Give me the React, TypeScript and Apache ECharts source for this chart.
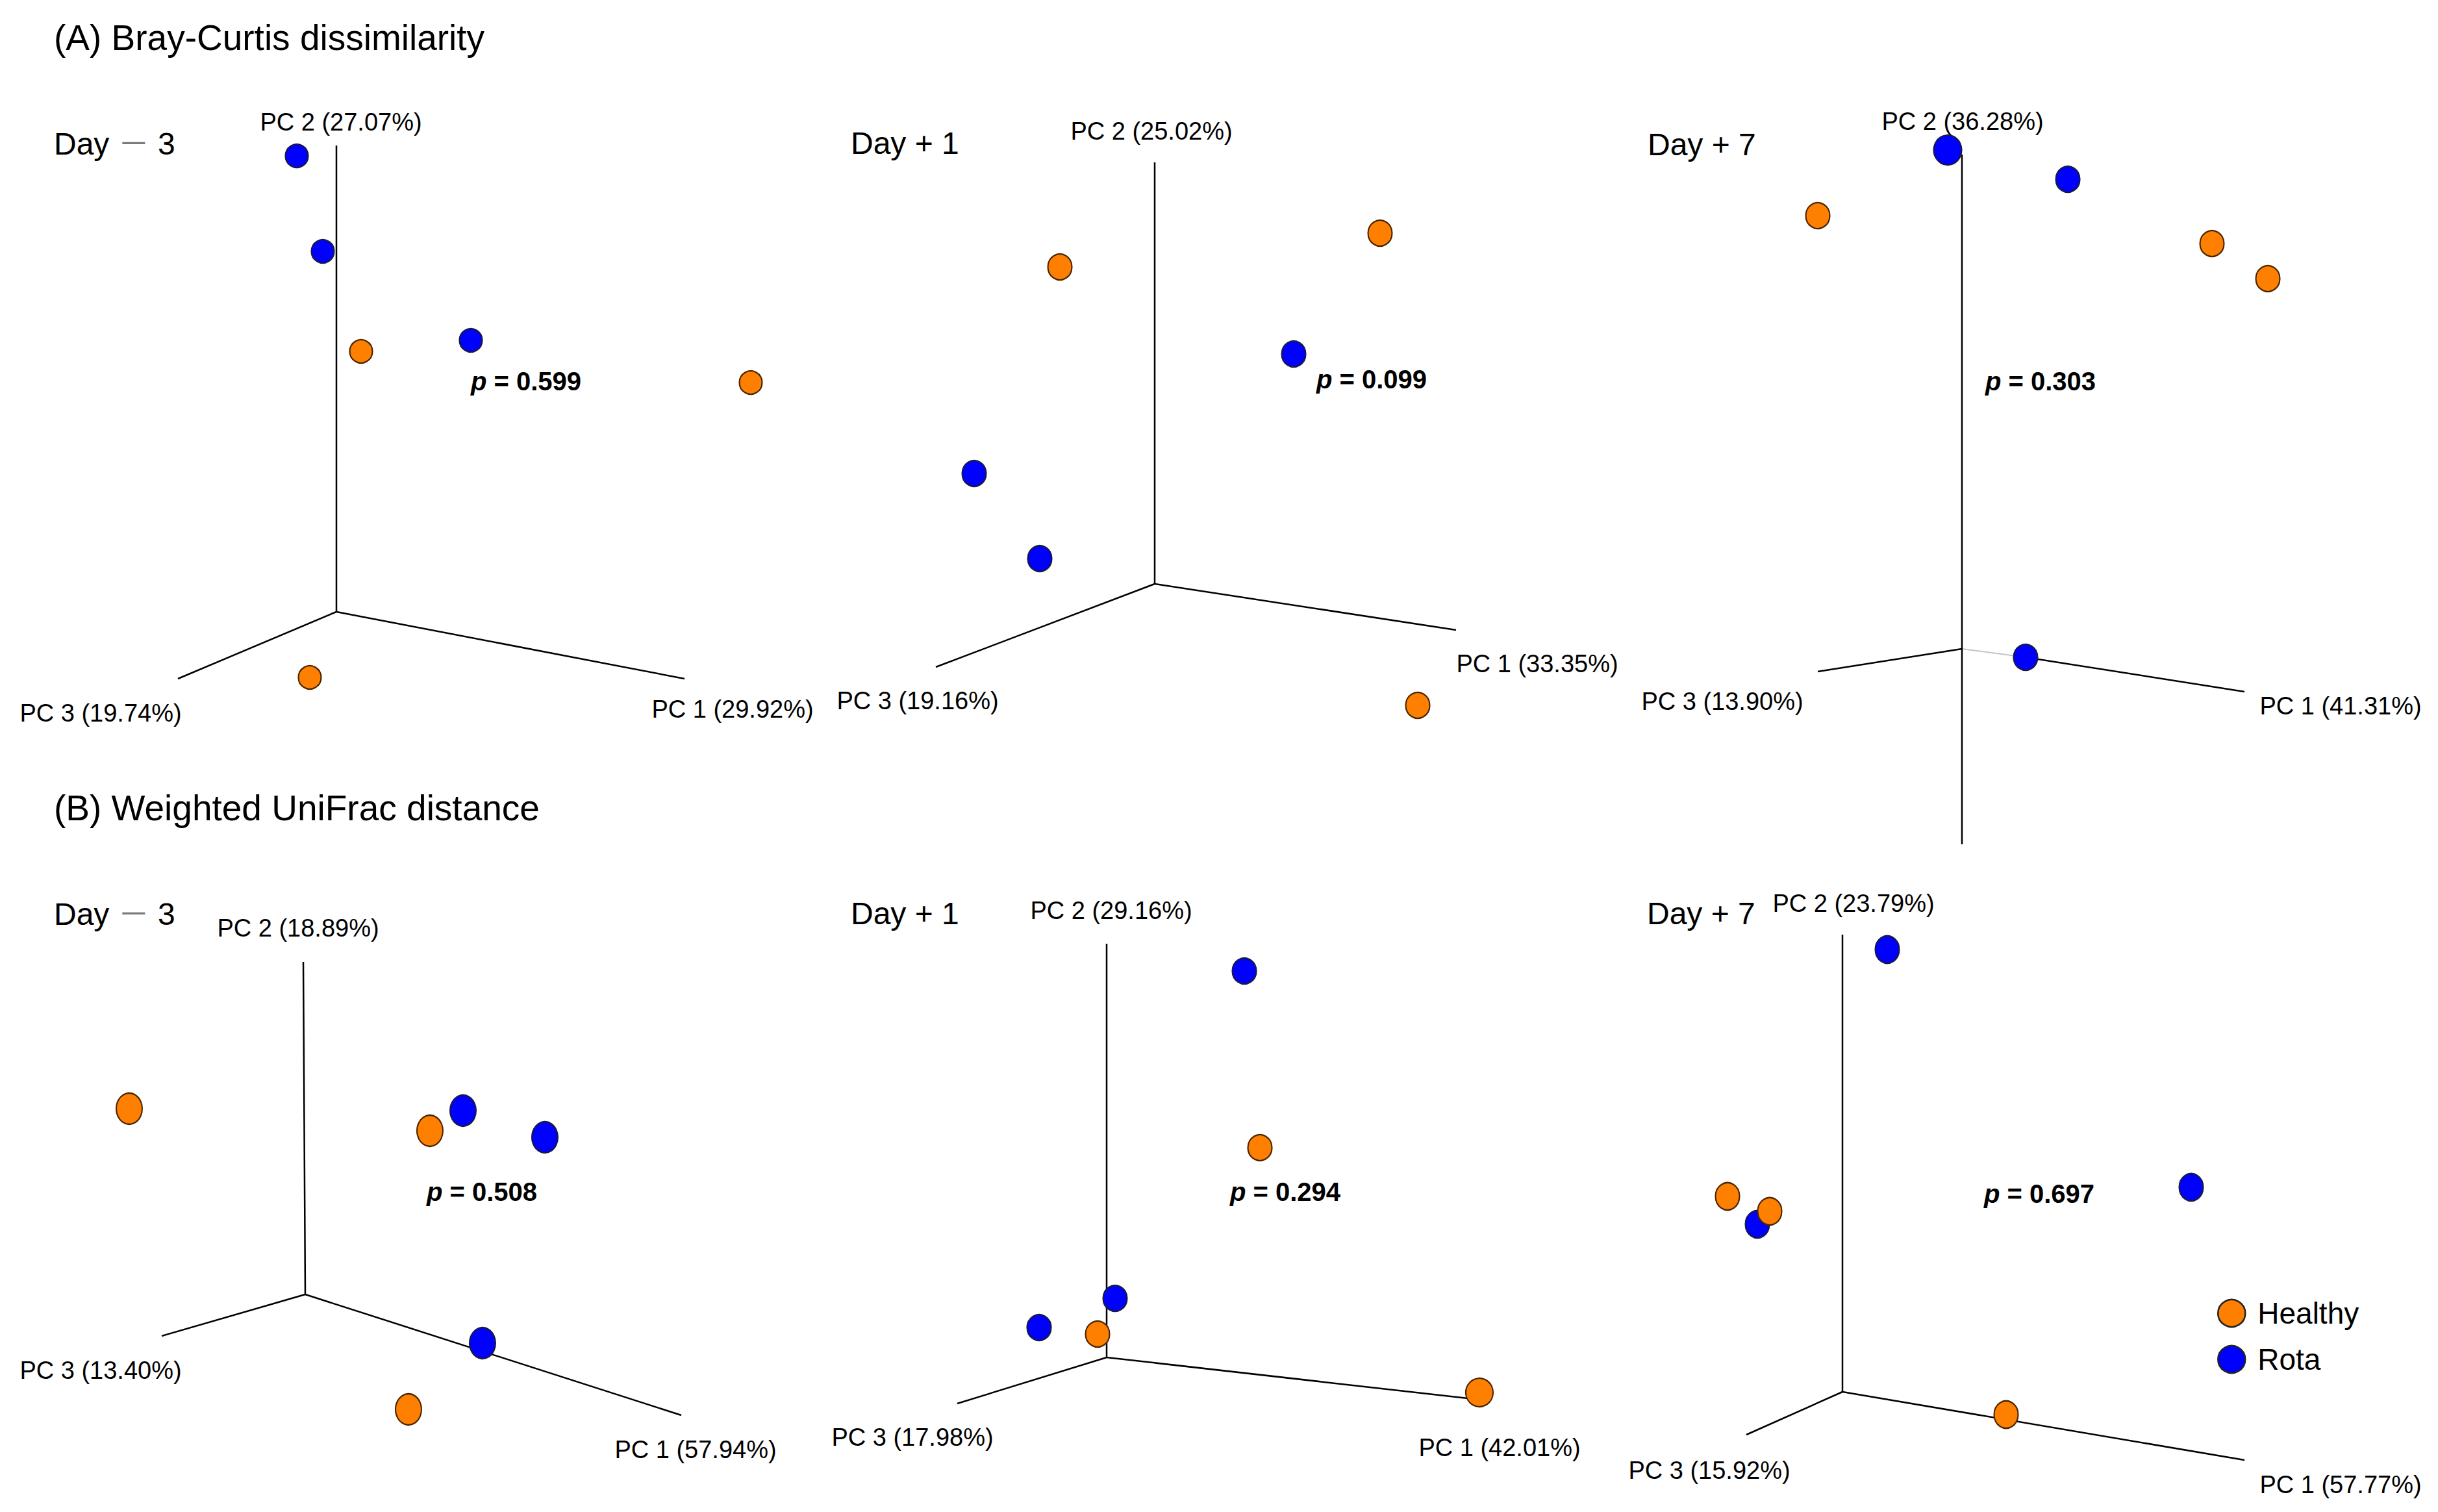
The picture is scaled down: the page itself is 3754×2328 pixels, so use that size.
import React, { useEffect, useRef } from "react";
import * as echarts from "echarts";

// ---------------- DATA (projected PCoA scores, relative to each panel's axis origin) ----------------
const SECTION_TITLES = ["(A) Bray-Curtis dissimilarity", "(B) Weighted UniFrac distance"];
const DAY_LABELS = ["Day \uFF0D 3", "Day + 1", "Day + 7", "Day \uFF0D 3", "Day + 1", "Day + 7"];
const P_VALUES = ["0.599", "0.099", "0.303", "0.508", "0.294", "0.697"];
const PC1_LABELS = ["PC 1 (29.92%)", "PC 1 (33.35%)", "PC 1 (41.31%)", "PC 1 (57.94%)", "PC 1 (42.01%)", "PC 1 (57.77%)"];
const PC2_LABELS = ["PC 2 (27.07%)", "PC 2 (25.02%)", "PC 2 (36.28%)", "PC 2 (18.89%)", "PC 2 (29.16%)", "PC 2 (23.79%)"];
const PC3_LABELS = ["PC 3 (19.74%)", "PC 3 (19.16%)", "PC 3 (13.90%)", "PC 3 (13.40%)", "PC 3 (17.98%)", "PC 3 (15.92%)"];
const GROUPS = ["Healthy", "Rota"];

// Bray-Curtis
const HEALTHY_A1 = [[0.38, 4.01], [6.38, 3.53], [-0.41, -1.01]];
const ROTA_A1 = [[-0.61, 7.02], [-0.21, 5.55], [2.07, 4.18]];
const HEALTHY_A2 = [[-1.46, 4.88], [3.47, 5.40], [4.05, -1.87]];
const ROTA_A2 = [[2.14, 3.54], [-2.78, 1.70], [-1.77, 0.39]];
const HEALTHY_A3 = [[-2.22, 6.67], [3.85, 6.24], [4.71, 5.70]];
const ROTA_A3 = [[-0.22, 7.68], [1.63, 7.23], [0.98, -0.13]];
// Weighted UniFrac
const HEALTHY_B1 = [[-2.71, 2.86], [1.92, 2.52], [1.59, -1.77]];
const ROTA_B1 = [[2.43, 2.83], [3.69, 2.42], [2.73, -0.75]];
const HEALTHY_B2 = [[2.36, 3.23], [-0.14, 0.36], [5.74, -0.54]];
const ROTA_B2 = [[2.12, 5.95], [0.13, 0.91], [-1.04, 0.46]];
const HEALTHY_B3 = [[-1.77, 3.01], [-1.12, 2.78], [2.52, -0.35]];
const ROTA_B3 = [[0.69, 6.81], [5.37, 3.15], [-1.31, 2.58]];

// projected axis end points
const PC1_END = [[5.36, -1.03], [4.64, -0.71], [4.35, -0.66], [5.79, -1.86], [5.74, -0.65], [6.19, -1.05]];
const PC2_END = [[0, 7.18], [0, 6.49], [0, 7.61], [-0.03, 5.12], [0, 6.37], [0, 7.04]];
const PC3_END = [[-2.44, -1.03], [-3.37, -1.28], [-2.22, -0.35], [-2.21, -0.64], [-2.3, -0.71], [-1.48, -0.66]];
const PC2_LOWER_END = [null, null, [0, -3.01], null, null, null];
const PC1_HIDDEN_TO = [null, null, [0.98, -0.13], null, null, null];

const HEALTHY = [HEALTHY_A1, HEALTHY_A2, HEALTHY_A3, HEALTHY_B1, HEALTHY_B2, HEALTHY_B3];
const ROTA = [ROTA_A1, ROTA_A2, ROTA_A3, ROTA_B1, ROTA_B2, ROTA_B3];

// ---------------- LAYOUT & STYLE ----------------
const W = 3754;
const H = 2328;
const FONT = "'Liberation Sans', Arial, Helvetica, 'Noto Sans CJK JP', sans-serif";
const ORANGE = "#FF7F00";
const BLUE = "#0000FF";
const UNIT = 100; // px per projected unit
const X_RANGE = [-3.5, 7.2];
const Y_RANGES = [[-3.5, 8.2], [-3.5, 8.2], [-3.5, 8.2], [-1.8, 8.2], [-1.8, 8.2], [-1.8, 8.2]];
const PANEL_ORIGINS = [[518, 942], [1778, 899], [3021, 999], [470, 1993], [1704, 2090], [2837, 2143]];
const MARKER_SIZES = [[35, 36], [37, 40], [37, 40], [40, 48], [37, 40], [37, 42]];
const BIG_ROTA = { 2: { idx: 0, size: [43, 46] } } as Record<number, { idx: number; size: number[] }>;
const BIG_HEALTHY = { 4: { idx: 2, size: [42, 44] } } as Record<number, { idx: number; size: number[] }>;
const TITLE_POS = [[83, 58], [83, 1244]];
const DAY_POS = [[83, 221], [1310, 220], [2537, 222], [83, 1407], [1310, 1406], [2536, 1406]];
const PC1_POS = [[1128, 1092], [2367, 1022], [3604, 1087], [1071, 2232], [2309, 2229], [3604, 2286]];
const PC2_POS = [[525, 188], [1773, 202], [3022, 187], [459, 1429], [1711, 1402], [2854, 1391]];
const PC3_POS = [[155, 1098], [1413, 1079], [2652, 1080], [155, 2110], [1405, 2213], [2632, 2264]];
const P_POS = [[725, 587], [2027, 584], [3057, 587], [657, 1835], [1894, 1835], [3055, 1838]];

function buildOption() {
  const grid: any[] = [];
  const xAxis: any[] = [];
  const yAxis: any[] = [];
  const series: any[] = [];
  const graphic: any[] = [];

  PANEL_ORIGINS.forEach(([ox, oy], i) => {
    const yr = Y_RANGES[i];
    grid.push({
      left: ox + X_RANGE[0] * UNIT,
      top: oy - yr[1] * UNIT,
      width: (X_RANGE[1] - X_RANGE[0]) * UNIT,
      height: (yr[1] - yr[0]) * UNIT,
      containLabel: false,
    });
    xAxis.push({ type: "value", gridIndex: i, min: X_RANGE[0], max: X_RANGE[1], show: false });
    yAxis.push({ type: "value", gridIndex: i, min: yr[0], max: yr[1], show: false });

    const lineBase = {
      type: "line",
      xAxisIndex: i,
      yAxisIndex: i,
      symbol: "none",
      silent: true,
      clip: false,
      z: 1,
      animation: false,
      lineStyle: { color: "#000", width: 2.5 },
    };
    // PC3 -> origin
    series.push({ ...lineBase, data: [PC3_END[i], [0, 0]] });
    // origin -> PC1 (with optional grey hidden part)
    const hid = PC1_HIDDEN_TO[i];
    if (hid) {
      series.push({ ...lineBase, data: [[0, 0], hid], lineStyle: { color: "#c4c4c4", width: 2 } });
      series.push({ ...lineBase, data: [hid, PC1_END[i]] });
    } else {
      series.push({ ...lineBase, data: [[0, 0], PC1_END[i]] });
    }
    // PC2
    const low = PC2_LOWER_END[i];
    series.push({ ...lineBase, data: [low ? low : [0, 0], PC2_END[i]] });

    const mk = (arr: number[][], big: { idx: number; size: number[] } | undefined) =>
      arr.map((v, k) => (big && big.idx === k ? { value: v, symbolSize: big.size } : { value: v }));

    series.push({
      type: "scatter",
      name: GROUPS[1],
      xAxisIndex: i,
      yAxisIndex: i,
      symbol: "circle",
      symbolSize: MARKER_SIZES[i],
      clip: false,
      z: 3,
      itemStyle: { color: BLUE, borderColor: "#1a1a40", borderWidth: 2.2, opacity: 1 },
      emphasis: { disabled: true },
      data: mk(ROTA[i], BIG_ROTA[i]),
    });
    series.push({
      type: "scatter",
      name: GROUPS[0],
      xAxisIndex: i,
      yAxisIndex: i,
      symbol: "circle",
      symbolSize: MARKER_SIZES[i],
      clip: false,
      z: 4,
      itemStyle: { color: ORANGE, borderColor: "#4a2400", borderWidth: 2.2, opacity: 1 },
      emphasis: { disabled: true },
      data: mk(HEALTHY[i], BIG_HEALTHY[i]),
    });

    const txt = (text: string, x: number, y: number, size: number, align = "center") => ({
      type: "text",
      x,
      y,
      silent: true,
      style: {
        text,
        fontSize: size,
        fontFamily: FONT,
        fill: "#000",
        align,
        verticalAlign: "middle",
      },
    });
    // Day label, with the (full-width) minus sign drawn in grey as in the original
    const day = DAY_LABELS[i];
    const richDay = day.replace("\uFF0D", "{d|\uFF0D}").replace(/^([^{]*)$/, "$1");
    graphic.push({
      type: "text",
      x: DAY_POS[i][0],
      y: DAY_POS[i][1],
      silent: true,
      style: {
        text: richDay.indexOf("{d|") >= 0 ? richDay.replace(/^(Day )/, "{n|$1").replace(/\{d\|/, "}{d|").replace(/( \d)$/, "{n|$1}") : day,
        fontSize: 48,
        fontFamily: FONT,
        fill: "#000",
        align: "left",
        verticalAlign: "middle",
        rich: {
          n: { fontSize: 48, fontFamily: FONT, fill: "#000" },
          d: { fontSize: 48, fontFamily: FONT, fill: "#7a7a7a" },
        },
      },
    });
    graphic.push(txt(PC1_LABELS[i], PC1_POS[i][0], PC1_POS[i][1], 38));
    graphic.push(txt(PC2_LABELS[i], PC2_POS[i][0], PC2_POS[i][1], 38));
    graphic.push(txt(PC3_LABELS[i], PC3_POS[i][0], PC3_POS[i][1], 38));
    graphic.push({
      type: "text",
      x: P_POS[i][0],
      y: P_POS[i][1],
      silent: true,
      style: {
        text: `{i|p}{b| = ${P_VALUES[i]}}`,
        align: "left",
        verticalAlign: "middle",
        fill: "#000",
        rich: {
          i: { fontStyle: "italic", fontWeight: "bold", fontSize: 40, fontFamily: FONT, fill: "#000" },
          b: { fontWeight: "bold", fontSize: 40, fontFamily: FONT, fill: "#000" },
        },
      },
    });
  });

  SECTION_TITLES.forEach((t, k) => {
    graphic.push({
      type: "text",
      x: TITLE_POS[k][0],
      y: TITLE_POS[k][1],
      silent: true,
      style: { text: t, fontSize: 55, fontFamily: FONT, fill: "#000", align: "left", verticalAlign: "middle" },
    });
  });

  return {
    animation: false,
    backgroundColor: "#fff",
    grid,
    xAxis,
    yAxis,
    series,
    graphic,
    legend: {
      data: [
        { name: GROUPS[0], itemStyle: { color: ORANGE, borderColor: "#222", borderWidth: 2.5, opacity: 1 } },
        { name: GROUPS[1], itemStyle: { color: BLUE, borderColor: "#222", borderWidth: 2.5, opacity: 1 } },
      ],
      orient: "vertical",
      left: 3414,
      top: 1999,
      padding: 0,
      itemWidth: 42,
      itemHeight: 42,
      itemGap: 25,
      icon: "circle",
      selectedMode: false,
      textStyle: { fontSize: 46, fontFamily: FONT, color: "#000", padding: [0, 0, 0, 14], lineHeight: 42 },
    },
  };
}

export default function App() {
  const ref = useRef<HTMLDivElement>(null);
  useEffect(() => {
    if (!ref.current) return;
    const chart = echarts.init(ref.current, undefined, { renderer: "svg", width: W, height: H });
    chart.setOption(buildOption() as any);
    return () => chart.dispose();
  }, []);
  return (
    <div
      ref={ref}
      style={{ position: "fixed", left: 0, top: 0, width: W, height: H, background: "#fff" }}
    />
  );
}
